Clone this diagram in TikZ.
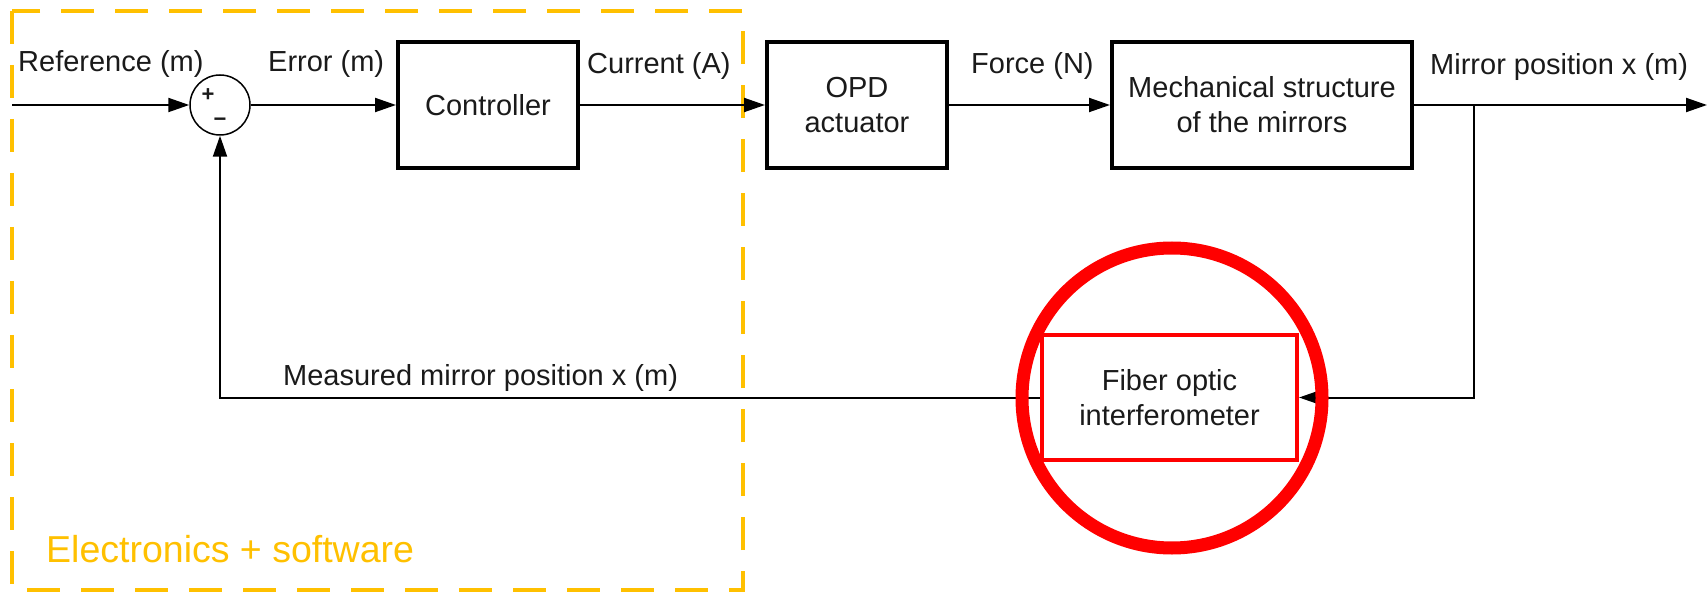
\documentclass[tikz,border=0pt]{standalone}
\usepackage{fontspec}
\setmainfont{Liberation Sans}
\usetikzlibrary{arrows.meta}
\definecolor{ylw}{HTML}{FFC000}
\definecolor{txt}{HTML}{1A1A1A}
\begin{document}
\begin{tikzpicture}[x=1pt,y=-1pt,
  lbl/.style={inner sep=0pt, anchor=base west, text=txt, font=\fontsize{29}{35}\selectfont},
  blk/.style={draw, line width=4pt, minimum width=180pt, minimum height=126pt, align=center, text=txt, font=\fontsize{29}{35}\selectfont, inner sep=0pt},
  conn/.style={line width=2pt, -{Triangle[length=21pt,width=14pt]}},
  sgn/.style={inner sep=0pt, text=txt, font=\bfseries\fontsize{22}{22}\selectfont},
  ybox/.style={draw=ylw, line width=4pt, dash pattern=on 33pt off 21pt},
  hl/.style={circle, draw=red, line width=13pt, minimum size=300pt, inner sep=0pt}]
\useasboundingbox (0,0) rectangle (1707,593);

% yellow dashed region
\draw[ybox] (12,11) rectangle (743,590);
\node[inner sep=0pt, anchor=base west, text=ylw, font=\fontsize{37.5}{40}\selectfont] (esw) at (46,562) {Electronics + software};

% blocks
\node[circle, draw, line width=1.5pt, minimum size=60pt, inner sep=0pt] (sum) at (220,105) {};
\node[sgn] (plus) at (208,95) {+};
\node[sgn] (minus) at (220,122) {−};
\node[blk] (ctrl) at (488,105) {Controller};
\node[blk] (opd) at (857,105) {OPD\\actuator};
\node[blk, minimum width=300pt] (mech) at (1262,105) {Mechanical structure\\of the mirrors};
\node[blk, draw=red, minimum width=255pt, minimum height=125pt] (fib) at (1169.5,397.5) {Fiber optic\\interferometer};

% coordinates
\coordinate (in) at (12,105);
\coordinate (out) at (1707,105);
\coordinate (br) at (1474,105);

% connectors
\draw[conn] (in) -- (sum.west);
\draw[conn] (sum.east) -- (ctrl.west);
\draw[conn] (ctrl.east) -- (opd.west);
\draw[conn] (opd.east) -- (mech.west);
\draw[conn] (mech.east) -- (out);
\draw[conn] (br) |- (fib.east);
\draw[conn] (fib.west) -| (sum.south);

% labels
\node[lbl] (l1) at (18,72) {Reference (m)};
\node[lbl] (l2) at (268,72) {Error (m)};
\node[lbl] (l3) at (587,74) {Current (A)};
\node[lbl] (l4) at (971,74) {Force (N)};
\node[lbl] (l5) at (1430,75) {Mirror position x (m)};
\node[lbl] (l6) at (283,385) {Measured mirror position x (m)};

% highlight circle
\node[hl] (ring) at (1172,398) {};
\end{tikzpicture}
\end{document}
